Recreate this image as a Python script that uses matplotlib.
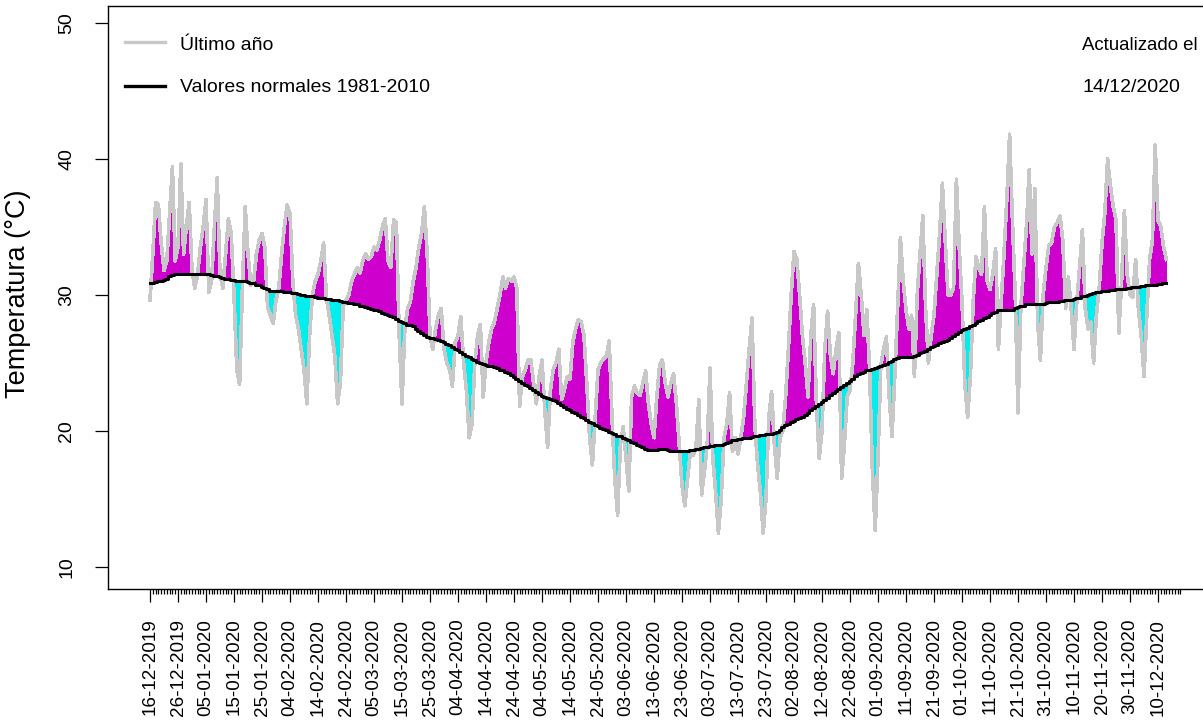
import matplotlib.pyplot as plt
from matplotlib.lines import Line2D
import numpy as np

plt.rcParams['font.family'] = ['Liberation Sans', 'DejaVu Sans']

# ----------------------------------------------------------------------
#   data: daily max temperature (last year) and 1981-2010 normal
#   day 0 = 16-12-2019
# ----------------------------------------------------------------------
start = np.datetime64('2019-12-16')

ultimo = np.array([
    29.6, 33.0, 36.8, 36.6, 33.8, 31.8, 32.5, 36.0, 39.4, 32.5,
    33.5, 39.6, 33.0, 35.0, 36.8, 31.8, 30.5, 31.5, 33.5, 35.0,
    37.0, 30.2, 31.0, 35.0, 38.6, 31.5, 30.5, 33.0, 35.6, 34.5,
    30.0, 24.5, 23.4, 30.5, 36.5, 33.0, 30.7, 31.0, 33.0, 34.0,
    34.5, 33.5, 29.1, 28.5, 27.9, 29.6, 30.5, 33.0, 35.0, 36.6,
    36.0, 31.0, 28.5, 27.5, 26.0, 24.5, 22.0, 27.0, 30.0, 31.0,
    31.5, 32.5, 33.8, 29.8, 28.5, 27.0, 25.5, 22.0, 23.5, 29.2,
    29.6, 30.0, 31.0, 31.5, 32.0, 31.6, 32.5, 33.0, 32.6, 32.8,
    33.5, 33.3, 34.0, 35.0, 35.6, 32.5, 32.0, 35.5, 35.3, 27.0,
    22.0, 27.5, 29.0, 29.5, 31.0, 32.0, 33.5, 34.5, 36.5, 33.0,
    27.0, 26.0, 27.5, 28.5, 29.0, 26.0, 25.0, 24.5, 23.3, 26.5,
    27.0, 28.4, 25.0, 23.0, 19.5, 20.5, 25.0, 27.0, 27.8, 22.5,
    25.0, 26.5, 27.5, 28.0, 29.0, 30.0, 31.3, 30.5, 31.2, 31.0,
    31.3, 30.5, 21.8, 24.0, 24.5, 25.2, 25.2, 23.5, 22.0, 24.0,
    25.2, 21.5, 18.8, 23.0, 24.5, 25.0, 26.0, 22.3, 23.0, 24.0,
    23.8, 26.5, 27.5, 28.2, 28.0, 27.0, 23.5, 19.5, 17.5, 21.0,
    24.5, 25.0, 25.3, 25.5, 26.6, 21.0, 16.5, 13.8, 19.0, 20.3,
    18.0, 15.6, 22.5, 23.3, 22.8, 22.6, 23.5, 24.4, 22.0, 20.5,
    19.5, 22.5, 24.8, 25.2, 23.5, 22.5, 23.5, 24.2, 22.0, 19.0,
    16.0, 14.5, 16.5, 18.5, 18.2, 18.8, 22.3, 15.3, 17.0, 19.0,
    24.6, 18.0, 15.5, 12.5, 15.0, 19.5, 20.5, 22.8, 18.5, 19.5,
    18.3, 19.5, 21.0, 23.5, 26.0, 28.3, 20.5, 17.5, 15.5, 12.5,
    15.0, 21.0, 22.9, 19.0, 16.5, 19.5, 20.0, 22.5, 26.0, 30.0,
    33.2, 32.6, 30.0, 27.0, 25.0, 22.5, 27.0, 29.3, 22.0, 18.0,
    20.0, 26.0, 28.8, 25.5, 24.2, 26.0, 27.2, 16.5, 19.0, 22.5,
    23.0, 25.0, 28.5, 32.3, 30.0, 27.0, 28.9, 24.5, 17.0, 12.7,
    18.0, 24.8, 26.0, 26.9, 22.5, 19.6, 24.0, 29.0, 34.2, 31.0,
    28.9, 27.5, 28.5, 24.0, 30.0, 33.0, 35.8, 29.0, 25.0, 27.0,
    28.5, 31.5, 34.5, 38.2, 34.0, 30.0, 30.0, 30.5, 38.5, 33.5,
    29.5, 23.5, 21.0, 24.0, 29.5, 32.8, 32.0, 31.5, 36.5, 31.0,
    30.4, 31.5, 33.4, 26.0, 29.5, 33.0, 37.0, 41.8, 35.5, 30.0,
    21.3, 29.0, 32.0, 35.0, 39.2, 33.0, 37.8, 28.0, 25.2, 30.0,
    32.0, 33.6, 33.8, 35.0, 35.3, 35.8, 34.0, 29.0, 31.3, 29.0,
    26.0, 29.5, 32.0, 34.8, 29.0, 27.5, 28.0, 25.0, 28.5, 30.5,
    33.8, 36.0, 40.0, 38.0, 36.5, 35.5, 27.2, 31.0, 36.2, 31.5,
    30.0, 29.8, 32.6, 29.0, 27.0, 24.0, 28.5, 32.6, 34.0, 41.0,
    35.5, 35.0, 33.5, 32.6,
])

normal = np.array([
    30.9, 30.9, 30.95, 31.0, 31.05, 31.1, 31.2, 31.4, 31.45, 31.5,
    31.5, 31.5, 31.5, 31.5, 31.5, 31.5, 31.5, 31.5, 31.5, 31.5,
    31.5, 31.5, 31.45, 31.4, 31.35, 31.3, 31.25, 31.2, 31.15, 31.1,
    31.1, 31.05, 31.05, 31.0, 31.0, 30.95, 30.9, 30.85, 30.75, 30.7,
    30.6, 30.5, 30.4, 30.3, 30.25, 30.25, 30.25, 30.25, 30.2, 30.2,
    30.2, 30.15, 30.1, 30.05, 30.0, 30.0, 29.95, 29.9, 29.9, 29.85,
    29.8, 29.8, 29.75, 29.7, 29.7, 29.65, 29.6, 29.6, 29.55, 29.5,
    29.45, 29.4, 29.4, 29.3, 29.3, 29.2, 29.15, 29.1, 29.0, 28.95,
    28.9, 28.85, 28.8, 28.7, 28.6, 28.5, 28.45, 28.35, 28.25, 28.1,
    28.0, 27.9, 27.8, 27.75, 27.7, 27.5, 27.35, 27.2, 27.05, 26.9,
    26.85, 26.8, 26.75, 26.7, 26.6, 26.5, 26.4, 26.3, 26.2, 26.05,
    25.95, 25.8, 25.65, 25.5, 25.4, 25.3, 25.2, 25.1, 25.0, 24.9,
    24.85, 24.8, 24.75, 24.7, 24.6, 24.5, 24.45, 24.35, 24.25, 24.1,
    23.95, 23.8, 23.65, 23.5, 23.4, 23.3, 23.15, 23.0, 22.85, 22.7,
    22.6, 22.5, 22.45, 22.35, 22.3, 22.2, 22.05, 21.9, 21.75, 21.6,
    21.5, 21.4, 21.3, 21.2, 21.05, 20.95, 20.8, 20.65, 20.55, 20.45,
    20.35, 20.25, 20.15, 20.05, 19.95, 19.85, 19.75, 19.65, 19.6, 19.5,
    19.4, 19.3, 19.2, 19.1, 19.0, 18.9, 18.8, 18.65, 18.6, 18.6,
    18.6, 18.6, 18.65, 18.7, 18.65, 18.6, 18.55, 18.55, 18.55, 18.55,
    18.55, 18.55, 18.55, 18.6, 18.6, 18.65, 18.7, 18.75, 18.8, 18.85,
    18.9, 18.9, 18.95, 19.0, 19.0, 19.05, 19.1, 19.2, 19.3, 19.35,
    19.4, 19.4, 19.45, 19.5, 19.5, 19.55, 19.6, 19.65, 19.7, 19.7,
    19.75, 19.8, 19.8, 19.85, 19.95, 20.1, 20.3, 20.4, 20.5, 20.65,
    20.75, 20.85, 20.95, 21.05, 21.2, 21.35, 21.5, 21.65, 21.8, 22.0,
    22.15, 22.3, 22.45, 22.65, 22.8, 22.95, 23.1, 23.25, 23.4, 23.55,
    23.7, 23.85, 24.05, 24.15, 24.25, 24.35, 24.45, 24.5, 24.55, 24.6,
    24.7, 24.75, 24.85, 24.95, 25.05, 25.15, 25.25, 25.35, 25.4, 25.4,
    25.4, 25.4, 25.45, 25.5, 25.6, 25.7, 25.8, 25.9, 26.0, 26.15,
    26.25, 26.35, 26.45, 26.55, 26.6, 26.7, 26.85, 27.0, 27.15, 27.3,
    27.4, 27.5, 27.6, 27.7, 27.8, 27.9, 28.05, 28.15, 28.3, 28.4,
    28.55, 28.65, 28.75, 28.85, 28.9, 28.9, 28.9, 28.9, 28.9, 29.0,
    29.1, 29.15, 29.2, 29.3, 29.3, 29.3, 29.3, 29.3, 29.3, 29.35,
    29.4, 29.45, 29.5, 29.5, 29.5, 29.55, 29.55, 29.6, 29.6, 29.65,
    29.7, 29.75, 29.8, 29.9, 29.95, 30.0, 30.05, 30.1, 30.2, 30.2,
    30.25, 30.3, 30.3, 30.35, 30.35, 30.4, 30.4, 30.45, 30.45, 30.5,
    30.5, 30.55, 30.6, 30.6, 30.65, 30.65, 30.7, 30.7, 30.75, 30.75,
    30.8, 30.8, 30.85, 30.9,
])

days = np.arange(len(ultimo))
tick_days = np.arange(0, 361, 10)
tick_labels = [(start + np.timedelta64(int(d), 'D')).item().strftime('%d-%m-%Y')
               for d in tick_days]

W, H = 1203, 721
fig = plt.figure(figsize=(W / 100, H / 100), dpi=100)
ax = fig.add_axes([108 / W, 132 / H, 1134 / W, 583 / H])

# ==============================================================================
#                                    plotting
# ==============================================================================
ax.fill_between(days, ultimo, normal, where=ultimo >= normal, interpolate=True,
                color='#CD00CD', lw=0, zorder=1, antialiased=False)
ax.fill_between(days, ultimo, normal, where=ultimo < normal, interpolate=True,
                color='#00EEEE', lw=0, zorder=1, antialiased=False)
# grey line on top of the fills
ax.plot(days, ultimo, color='#C8C8C8', lw=1.9, zorder=2, antialiased=False)
ax.plot(days, normal, color='black', lw=2.2, zorder=3, drawstyle='steps-mid')

ax.set_xlim(-15, 390)
ax.set_ylim(8.38, 51.23)

ax.set_xticks(tick_days)
ax.set_xticklabels(tick_labels, rotation=90, fontsize=13.6)
ax.set_xticks(np.arange(0, 369), minor=True)
ax.tick_params(axis='x', which='major', length=9.4, width=0.9, pad=12)
ax.tick_params(axis='x', which='minor', length=3.6, width=0.9)

ax.set_yticks([10, 20, 30, 40, 50])
ax.tick_params(axis='y', length=9.4, width=0.9, pad=14, labelsize=14, labelrotation=90)
for lab in ax.get_yticklabels():
    lab.set_verticalalignment('center')

for s in ['left', 'top', 'bottom']:
    ax.spines[s].set_linewidth(1.0)
ax.spines['right'].set_visible(False)

fig.text(18 / W, 1 - 294 / H, 'Temperatura (°C)', rotation=90,
         ha='center', va='center', fontsize=19.5)

# legend
fig.add_artist(Line2D([125 / W, 165 / W], [1 - 42 / H] * 2, color='#C8C8C8', lw=2.4))
fig.add_artist(Line2D([125 / W, 165 / W], [1 - 86 / H] * 2, color='black', lw=2.4))
fig.text(180 / W, 1 - 45 / H, 'Último año', va='center', fontsize=14)
fig.text(180 / W, 1 - 87 / H, 'Valores normales 1981-2010', va='center', fontsize=14)
fig.text(1082 / W, 1 - 45 / H, 'Actualizado el', va='center', fontsize=13.4)
fig.text(1082 / W, 1 - 87 / H, '14/12/2020', va='center', fontsize=14)

fig.savefig('out.png', dpi=100)
